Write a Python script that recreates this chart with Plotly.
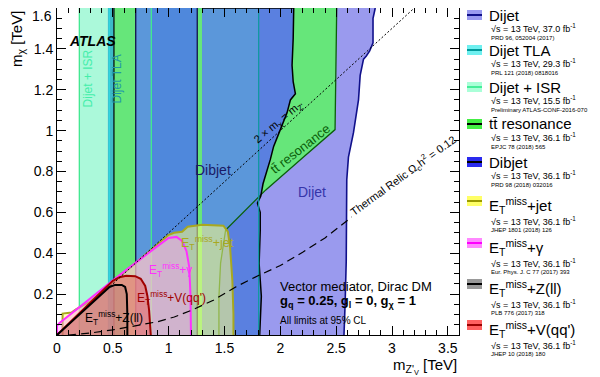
import plotly.graph_objects as go

# ---------------- data: exclusion contours (m_Z' [TeV], m_chi [TeV]) ----------------
dijet_mzp  = [1.20, 2.85, 2.83, 2.83, 2.80, 2.77, 2.745, 2.715, 2.70, 2.655, 2.61, 2.595, 2.595, 2.59, 2.58, 2.57, 1.20]
dijet_mchi = [1.60, 1.60, 1.55, 1.43, 1.39, 1.365, 1.35, 1.27, 1.15, 0.99, 0.87, 0.76, 0.60, 0.36, 0.15, 0.00, 0.00]

ttbar_mzp  = [0.51, 0.51, 2.505, 2.49, 2.20, 1.87, 1.51, 1.465, 1.45, 1.45]
ttbar_mchi = [0.00, 1.60, 1.60, 1.005, 0.867, 0.71, 0.514, 0.352, 0.187, 0.00]

dibjet_lo_mzp = [0.705, 1.256]
dibjet_hi_mzp  = [1.30, 2.12, 2.115, 2.105, 2.115, 2.135, 2.09, 2.06, 2.00, 1.94, 1.91, 1.87, 1.845, 1.825, 1.795, 1.82, 1.82, 1.81, 1.83, 1.815, 1.30]
dibjet_hi_mchi = [1.60, 1.60, 1.45, 1.32, 1.24, 1.18, 1.15, 1.087, 1.005, 0.923, 0.858, 0.79, 0.74, 0.68, 0.645, 0.60, 0.51, 0.35, 0.19, 0.00, 0.00]

# overlap of dibjet with ttbar/TLA
overlap_lo_mzp = [0.705, 0.845]
overlap_hi_mzp  = [1.30, 1.45, 1.45, 1.465, 1.51, 1.806, 1.806, 1.30]
overlap_hi_mchi = [0.00, 0.00, 0.187, 0.352, 0.514, 0.675, 1.60, 1.60]

isr_mzp = [0.20, 0.455, 0.845]          # Dijet + ISR window edges
tla_mzp = [0.455, 0.51]                  # visible TLA strip
tla_edges = [0.468, 1.806]

jet_mzp  = [0.05, 0.05, 0.13, 0.17, 0.30, 0.60, 0.90, 1.00, 1.05, 1.12, 1.17, 1.30, 1.49, 1.53, 1.55, 1.57, 1.58, 1.58]
jet_mchi = [0.00, 0.105, 0.11, 0.125, 0.165, 0.305, 0.445, 0.49, 0.50, 0.505, 0.53, 0.54, 0.535, 0.506, 0.43, 0.27, 0.10, 0.00]

gam_mzp  = [0.00, 0.00, 0.02, 0.30, 0.60, 0.90, 1.00, 1.07, 1.12, 1.16, 1.185, 1.195, 1.20]
gam_mchi = [0.00, 0.045, 0.058, 0.18, 0.31, 0.435, 0.475, 0.48, 0.46, 0.41, 0.33, 0.20, 0.00]

vqq_mzp  = [0.00, 0.20, 0.40, 0.50, 0.56, 0.62, 0.70, 0.75, 0.79, 0.81, 0.825, 0.835, 0.84]
vqq_mchi = [0.00, 0.105, 0.215, 0.265, 0.283, 0.29, 0.288, 0.275, 0.24, 0.19, 0.12, 0.05, 0.00]

zll_mzp  = [0.00, 0.20, 0.40, 0.47, 0.52, 0.58, 0.61, 0.625, 0.63, 0.63]
zll_mchi = [0.00, 0.10, 0.20, 0.235, 0.245, 0.245, 0.235, 0.20, 0.10, 0.00]

relic_mzp  = [0.10, 0.30, 0.50, 0.70, 0.90, 1.05, 1.20, 1.40, 1.60, 1.80, 2.00, 2.20, 2.40, 2.60, 2.64]
relic_mchi = [0.00, 0.010, 0.025, 0.045, 0.065, 0.088, 0.12, 0.17, 0.235, 0.29, 0.34, 0.405, 0.475, 0.56, 0.578]

onshell_mzp = [0.0, 3.2]
onshell_mchi = [0.0, 1.6]

x_ticks = [0, 0.5, 1, 1.5, 2, 2.5, 3, 3.5]
x_ticktext = ["0", "0.5", "1", "1.5", "2", "2.5", "3", "3.5"]
y_ticks = [0.2, 0.4, 0.6, 0.8, 1.0, 1.2, 1.4, 1.6]
y_ticktext = ["0.2", "0.4", "0.6", "0.8", "1", "1.2", "1.4", ""]
y_top_label = "1.6"

leg_names = ["Dijet", "Dijet TLA", "Dijet + ISR", "tt\u0304 resonance", "Dibjet",
             "E<sub>T</sub><sup>miss</sup>+jet", "E<sub>T</sub><sup>miss</sup>+\u03b3",
             "E<sub>T</sub><sup>miss</sup>+Z(ll)", "E<sub>T</sub><sup>miss</sup>+V(qq')"]
leg_lumi = ["37.0", "29.3", "15.5", "36.1", "36.1", "36.1", "36.1", "36.1", "36.1"]
leg_refs = ["PRD 96, 052004 (2017)", "PRL 121 (2018) 0818016", "Preliminary ATLAS-CONF-2016-070",
            "EPJC 78 (2018) 565", "PRD 98 (2018) 032016", "JHEP 1801 (2018) 126",
            "Eur. Phys. J. C 77 (2017) 393", "PLB 776 (2017) 318", "JHEP 10 (2018) 180"]
leg_fill = ["#9a9af0", "#6ff0f0", "#aaffd8", "#44ee44", "#2a2aee", "#ffff66", "#ff88ff", "#999999", "#ff6060"]
leg_line = ["#10108a", "#009a9a", "#44ee99", "#000000", "#000000", "#9a9a00", "#ff00ff", "#000000", "#990000"]

FONT = "Liberation Sans, Arial, sans-serif"
fig = go.Figure()

def poly(xs, ys, fill, lc=None, w=0):
    fig.add_trace(go.Scatter(x=xs, y=ys, fill="toself", fillcolor=fill, mode="lines",
                             line=dict(width=w, color=lc or fill), hoverinfo="skip", showlegend=False))

def line(xs, ys, color, w=1.2, dash="solid"):
    fig.add_trace(go.Scatter(x=xs, y=ys, mode="lines", line=dict(width=w, color=color, dash=dash),
                             hoverinfo="skip", showlegend=False))

def rect(a, b, fill):
    poly([a, b, b, a], [0, 0, 1.6, 1.6], fill)

# dijet
poly(dijet_mzp, dijet_mchi, "#9a9aee")
# ttbar resonance
poly(ttbar_mzp, ttbar_mchi, "#66e67a")
# dibjet
rect(dibjet_lo_mzp[0], dibjet_lo_mzp[1], "#4f88dc")
poly(dibjet_hi_mzp, dibjet_hi_mchi, "#5a80e0")
# overlaps
rect(overlap_lo_mzp[0], overlap_lo_mzp[1], "#5b97da")
poly(overlap_hi_mzp, overlap_hi_mchi, "#5b97da")
# Dijet+ISR and TLA strips
rect(isr_mzp[0], isr_mzp[1], "#abf9da")
rect(tla_mzp[0], tla_mzp[1], "#3cbac8")

# boundary lines
line(dijet_mzp[1:-1], dijet_mchi[1:-1], "#10108a", 1.6)
line(ttbar_mzp[2:], ttbar_mchi[2:], "#0b5f0b", 1.3)
line([ttbar_mzp[0]] * 2, [0, 1.6], "#000000", 1.2)
for v in dibjet_lo_mzp:
    line([v, v], [0, 1.6], "#12124a", 1.3)
line(dibjet_hi_mzp[:-1], dibjet_hi_mchi[:-1], "#000000", 1.5)
line([isr_mzp[0]] * 2, [0, 1.6], "#40e890", 1.3)
line([isr_mzp[2]] * 2, [0, 1.6], "#40e890", 1.3)
line([tla_edges[0]] * 2, [0, 1.6], "#30d8e0", 1.3)
line([tla_edges[1]] * 2, [0, 1.6], "#109aa0", 1.3)

# ETmiss + X regions
poly(jet_mzp, jet_mchi, "rgba(255,255,130,0.55)", "#a8a820", 2)
poly(gam_mzp, gam_mchi, "rgba(255,150,255,0.42)", "#ff30ff", 2)
poly(vqq_mzp, vqq_mchi, "rgba(235,80,70,0.45)", "#a00000", 2)
poly(zll_mzp, zll_mchi, "rgba(100,100,100,0.15)", "#000000", 2)

# reference curves
line(onshell_mzp, onshell_mchi, "#000000", 1.0, "2px,2px")
line(relic_mzp, relic_mchi, "#000000", 1.2, "8px,5px")

def txt(x, y, s, size=14, color="black", angle=0, xa="center", ref="data", **kw):
    fig.add_annotation(x=x, y=y, text=s, showarrow=False, textangle=angle, xanchor=xa,
                       xref="x" if ref == "data" else "paper", yref="y" if ref == "data" else "paper",
                       font=dict(family=FONT, size=size, color=color), **kw)

txt(0.09, 1.44, "<b><i>ATLAS</i></b>", 14, xa="left")
txt(0.277, 1.255, "Dijet + ISR", 12, "#44eeaa", -90)
txt(0.537, 1.255, "Dijet TLA", 12, "#1f98a8", -90)
txt(1.40, 0.807, "Dibjet", 14, "#1a1a66")
txt(2.283, 0.699, "Dijet", 14, "#3535aa")
txt(2.18, 0.915, "tt\u0304 resonance", 13, "#0b5f0b", -38)
txt(1.99, 1.04, "2 \u00d7 m<sub>\u03c7</sub> = m<sub>Z'</sub>", 11, "black", -40)
txt(3.10, 0.776, "Thermal Relic \u03a9<sub>c</sub>h<sup>2</sup> = 0.12", 11, "black", -36)
txt(1.09, 0.452, "E<sub>T</sub><sup>miss</sup>+jet", 12.5, "#a8a820", xa="left")
txt(0.81, 0.317, "E<sub>T</sub><sup>miss</sup>+\u03b3", 12, "#ff30ff", xa="left")
txt(0.70, 0.18, "E<sub>T</sub><sup>miss</sup>+V(qq')", 12, "#a00000", xa="left")
txt(0.23, 0.083, "E<sub>T</sub><sup>miss</sup>+Z(ll)", 12, "black", xa="left")
txt(1.98, 0.236, "Vector mediator, Dirac DM", 13, xa="left")
txt(1.98, 0.166, "<b>g<sub>q</sub> = 0.25, g<sub>l</sub> = 0, g<sub>\u03c7</sub> = 1</b>", 13, xa="left")
txt(1.98, 0.073, "All limits at 95% CL", 10, xa="left")

# layout geometry (page is offset by the 8px body margin)
OFF = 8
FW, FH = 600 - OFF, 377 - OFF
L, T, W, H = 57 - OFF, 8 - OFF, 402, 327

def px(xp, yp):
    # page pixel -> paper coords
    return (xp - OFF - L) / W, (T + H - (yp - OFF)) / H

# top y tick label kept inside the visible page
ax, ay = px(54, 16)
txt(ax, ay, y_top_label, 14, xa="right", ref="paper", yanchor="middle")

ax, ay = px(459, 366)
txt(ax, ay, "m<sub>Z'<sub>V</sub></sub> [TeV]", 15, xa="right", ref="paper", yanchor="middle")
ax, ay = px(17, 9)
txt(ax, ay, "m<sub>\u03c7</sub> [TeV]", 15, angle=-90, ref="paper", yanchor="top")

# legend
label_y = [15, 50, 87, 124, 162, 205, 247, 288, 329]
for i, name in enumerate(leg_names):
    ly = label_y[i]
    etm = i >= 5
    sy = ly - 4 if etm else ly
    x0, y0 = px(467, sy + 5)
    x1, y1 = px(482, sy - 5)
    fig.add_shape(type="rect", xref="paper", yref="paper", x0=x0, x1=x1, y0=y0, y1=y1,
                  fillcolor=leg_fill[i], line=dict(width=0))
    _, ym = px(467, sy)
    fig.add_shape(type="line", xref="paper", yref="paper", x0=x0, x1=x1, y0=ym, y1=ym,
                  line=dict(color=leg_line[i], width=2))
    tx, ty = px(487, ly)
    txt(tx, ty, name, 15, xa="left", ref="paper", yanchor="middle")
    tx, ty = px(489, ly + (16 if etm else 13))
    txt(tx, ty, "\u221as = 13 TeV, " + leg_lumi[i] + " fb<sup>-1</sup>", 9, xa="left", ref="paper", yanchor="middle")
    tx, ty = px(489, ly + (25 if etm else 23))
    txt(tx, ty, leg_refs[i], 6, xa="left", ref="paper", yanchor="middle")

axis_common = dict(showline=True, linecolor="black", linewidth=1, mirror="allticks", ticks="inside",
                   tickcolor="black", showgrid=False, zeroline=False,
                   tickfont=dict(family=FONT, size=14, color="black"))
fig.update_xaxes(range=[0, 3.6], tickvals=x_ticks, ticktext=x_ticktext, ticklen=9,
                 minor=dict(ticks="inside", ticklen=5, dtick=0.1, tick0=0, tickcolor="black", showgrid=False),
                 **axis_common)
fig.update_yaxes(range=[0, 1.6], tickvals=y_ticks, ticktext=y_ticktext, ticklen=9,
                 minor=dict(ticks="inside", ticklen=5, dtick=0.05, tick0=0, tickcolor="black", showgrid=False),
                 **axis_common)
fig.update_layout(width=FW, height=FH, margin=dict(l=L, r=FW - L - W, t=T, b=FH - T - H, pad=0, autoexpand=False),
                  paper_bgcolor="white", plot_bgcolor="white", showlegend=False,
                  font=dict(family=FONT, color="black"))
fig.write_html("out.html")
